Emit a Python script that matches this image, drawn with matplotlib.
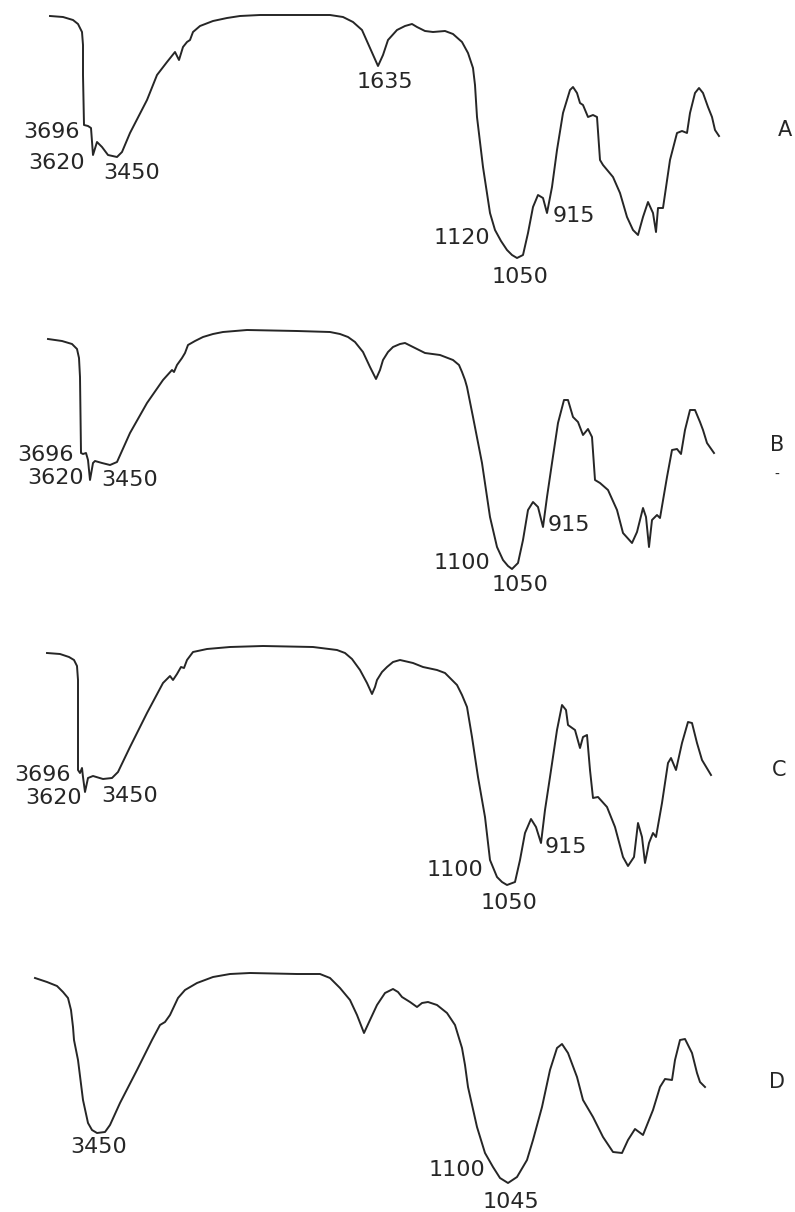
import numpy as np
import matplotlib
matplotlib.use("Agg")
import matplotlib.pyplot as plt

# traced spectra (picture coordinates: x to the right, y downward)
spec_a = [(50,16),(63,17),(73,20),(78,24),(82,32),(83,45),(83,75),(84,125),(88,126),(91,128),
          (93,155),(97,142),(102,147),(108,155),(117,157),(122,152),(130,133),(147,100),(157,75),(167,62),
          (175,52),(179,60),(183,47),(187,42),(190,40),(193,32),(200,26),(213,21),(227,18),(240,16),
          (260,15),(330,15),(343,17),(353,22),(362,30),(370,48),(378,66),(383,55),(388,40),(397,30),
          (405,26),(412,24),(417,27),(425,31),(433,32),(445,31),(453,34),(462,42),(468,53),(473,68),
          (475,85),(477,117),(483,167),(490,213),(495,230),(501,241),(507,250),(512,255),(517,258),(523,255),
          (528,233),(533,207),(538,195),(543,198),(547,213),(552,187),(557,150),(563,113),(570,90),(573,87),
          (577,93),(580,103),(583,105),(588,117),(593,115),(597,117),(600,160),(603,165),(613,177),(620,193),
          (627,217),(633,230),(638,235),(643,217),(648,202),(653,213),(656,232),(658,208),(663,208),(670,160),
          (677,133),(682,131),(687,133),(690,113),(695,93),(699,88),(703,93),(708,107),(712,117),(715,130),
          (719,136)]

spec_b = [(48,339),(62,341),(72,344),(77,349),(79,358),(80,377),(81,453),(83,454),(86,453),(88,460),
          (90,480),(93,463),(95,461),(102,463),(110,465),(117,462),(130,433),(147,403),(163,380),(172,370),
          (174,372),(177,365),(182,358),(185,353),(188,345),(195,341),(203,337),(213,334),(223,332),(247,330),
          (297,331),(330,332),(340,334),(348,337),(355,342),(363,352),(370,367),(376,379),(380,370),(383,360),
          (388,352),(393,347),(400,344),(405,343),(413,347),(425,353),(440,355),(453,360),(459,365),(462,372),
          (465,380),(467,387),(473,417),(482,463),(490,517),(497,547),(503,560),(508,566),(512,569),(518,563),
          (523,540),(528,510),(533,502),(538,507),(543,527),(547,497),(552,463),(558,423),(564,400),(568,400),
          (573,417),(578,422),(583,435),(588,429),(592,437),(595,480),(600,483),(608,490),(617,510),(623,533),
          (632,543),(637,532),(643,508),(646,517),(649,547),(652,520),(657,515),(660,518),(667,477),(672,450),
          (677,449),(681,454),(685,430),(690,410),(695,410),(700,422),(703,430),(707,443),(714,453)]

spec_c = [(47,653),(60,654),(69,657),(74,660),(77,666),(78,680),(78,770),(80,773),(82,768),(83,777),
          (85,792),(88,778),(93,776),(103,779),(112,778),(118,772),(130,747),(147,713),(163,683),(170,676),
          (173,680),(177,674),(181,667),(184,668),(187,660),(193,652),(207,649),(230,647),(263,646),(313,647),
          (337,650),(345,653),(352,659),(360,670),(367,683),(372,694),(375,687),(377,680),(382,672),(387,667),
          (393,662),(400,660),(413,663),(423,667),(437,670),(445,673),(452,680),(457,685),(462,695),(467,707),
          (472,737),(478,777),(485,817),(490,860),(497,877),(502,882),(507,885),(515,882),(520,860),(525,833),
          (531,819),(536,827),(541,843),(545,810),(550,777),(557,730),(562,705),(566,710),(568,725),(575,730),
          (580,748),(583,737),(587,735),(590,770),(593,798),(598,797),(607,807),(615,827),(623,857),(628,866),
          (634,857),(638,823),(642,837),(645,863),(649,843),(653,833),(656,837),(662,803),(668,763),(671,758),
          (676,770),(682,743),(688,722),(692,723),(697,743),(702,760),(711,775)]

spec_d = [(35,978),(47,982),(57,986),(63,992),(68,998),(71,1010),(73,1027),(74,1040),(78,1060),(83,1100),
          (88,1123),(92,1130),(97,1133),(105,1132),(110,1125),(120,1103),(137,1070),(152,1040),(160,1025),(165,1022),
          (170,1015),(178,998),(185,990),(197,983),(213,977),(230,974),(250,973),(297,974),(320,974),(330,978),
          (340,988),(350,1000),(357,1015),(364,1033),(370,1020),(377,1005),(385,993),(393,989),(398,992),(402,997),
          (410,1002),(417,1007),(422,1003),(428,1002),(437,1005),(447,1013),(455,1025),(462,1048),(465,1065),(468,1087),
          (477,1127),(485,1153),(493,1167),(500,1178),(508,1183),(517,1177),(527,1160),(533,1140),(542,1107),(550,1070),
          (557,1048),(562,1044),(568,1053),(577,1077),(583,1100),(593,1117),(603,1137),(613,1152),(622,1153),(628,1140),
          (635,1129),(639,1132),(643,1135),(647,1125),(653,1110),(660,1087),(665,1079),(672,1080),(675,1060),(680,1040),
          (685,1039),(692,1053),(697,1073),(700,1082),(705,1087)]

# peak labels: text, x, y, horizontal alignment
labels_a = [("3696", 80, 132, "right"), ("3620", 85, 163, "right"), ("3450", 132, 173, "center"),
            ("1635", 385, 82, "center"), ("1120", 490, 238, "right"), ("1050", 520, 277, "center"),
            ("915", 553, 216, "left")]
labels_b = [("3696", 74, 455, "right"), ("3620", 84, 478, "right"), ("3450", 130, 480, "center"),
            ("1100", 490, 563, "right"), ("1050", 520, 585, "center"), ("915", 548, 525, "left")]
labels_c = [("3696", 71, 775, "right"), ("3620", 82, 798, "right"), ("3450", 130, 796, "center"),
            ("1100", 483, 870, "right"), ("1050", 509, 903, "center"), ("915", 545, 847, "left")]
labels_d = [("3450", 99, 1147, "center"), ("1100", 485, 1170, "right"), ("1045", 511, 1202, "center")]

names = ["A", "B", "C", "D"]
name_x = [785, 777, 779, 777]
name_y = [130, 445, 770, 1082]

ink = "#262626"
fig = plt.figure(figsize=(7.95, 12.12), dpi=100)
ax = fig.add_axes([0, 0, 1, 1])
ax.set_xlim(0, 795)
ax.set_ylim(1212, 0)
ax.axis("off")

for spec in [spec_a, spec_b, spec_c, spec_d]:
    xy = np.array(spec)
    ax.plot(xy[:, 0], xy[:, 1], color=ink, lw=1.4, solid_joinstyle="round")

for labs in [labels_a, labels_b, labels_c, labels_d]:
    for txt, x, y, ha in labs:
        ax.text(x, y, txt, ha=ha, va="center", fontsize=16, color=ink, family="DejaVu Sans")

for n, x, y in zip(names, name_x, name_y):
    ax.text(x, y, n, ha="center", va="center", fontsize=15, color=ink)
ax.text(777, 475, "-", ha="center", va="center", fontsize=10, color=ink)

fig.savefig("out.png", dpi=100, facecolor="white")
